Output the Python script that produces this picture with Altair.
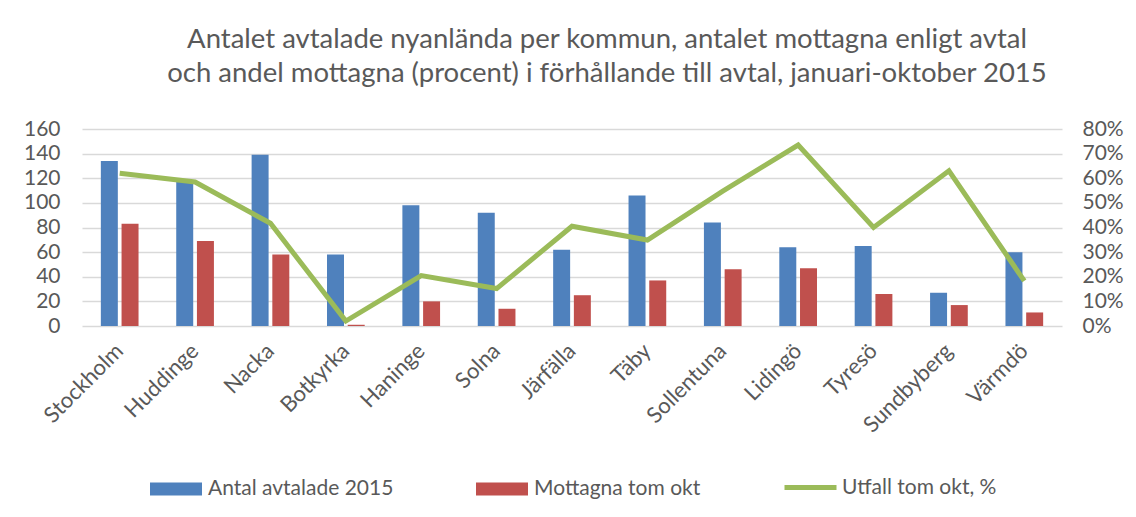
import altair as alt
import pandas as pd

kommuner = ["Stockholm", "Huddinge", "Nacka", "Botkyrka", "Haninge", "Solna",
            "Järfälla", "Täby", "Sollentuna", "Lidingö", "Tyresö", "Sundbyberg", "Värmdö"]
avtalade = [134, 118, 139, 58, 98, 92, 62, 106, 84, 64, 65, 27, 60]
mottagna = [83, 69, 58, 1, 20, 14, 25, 37, 46, 47, 26, 17, 11]
utfall = [0.62, 0.585, 0.417, 0.02, 0.205, 0.152, 0.405, 0.349, 0.548, 0.735, 0.40, 0.63, 0.183]

s1, s2, s3 = "Antal avtalade 2015", "Mottagna tom okt", "Utfall tom okt, %"
bar_colors = ["#4F81BD", "#C0504D"]
line_color = "#9BBB59"

bars_df = pd.DataFrame({
    "kommun": kommuner * 2,
    "serie": [s1] * len(kommuner) + [s2] * len(kommuner),
    "value": avtalade + mottagna,
})
line_df = pd.DataFrame({"kommun": kommuner, "pct": utfall, "serie": [s3] * len(kommuner)})

FONT = "Lato"
TXT = "#595959"

xscale = alt.Scale(paddingInner=0.5, paddingOuter=0.25)
xaxis = alt.Axis(title=None, labelAngle=-45, labelFontSize=22, labelColor=TXT,
                 labelFont=FONT, domain=False, ticks=False, grid=False, labelPadding=21,
                 labelBaseline="middle")

common_legend = dict(title=None, orient="none", direction="horizontal",
                     labelFontSize=21, labelFont=FONT, labelColor=TXT, labelLimit=400,
                     symbolSize=2704, padding=0, symbolOpacity=1)

bar_legend = alt.Legend(legendX=68, legendY=334, columns=2, columnPadding=82,
                        labelOffset=6,
                        symbolType="M-1,-0.25L1,-0.25L1,0.25L-1,0.25Z",
                        symbolStrokeWidth=0, **common_legend)
line_legend = alt.Legend(legendX=700, legendY=330, symbolType="stroke", labelOffset=3,
                         symbolStrokeWidth=5, **common_legend)

bars = alt.Chart(bars_df).mark_bar().encode(
    x=alt.X("kommun:N", sort=kommuner, scale=xscale, axis=xaxis),
    xOffset=alt.XOffset("serie:N", sort=[s1, s2], scale=alt.Scale(paddingInner=0.18)),
    y=alt.Y("value:Q", scale=alt.Scale(domain=[0, 160]),
            axis=alt.Axis(title=None, values=list(range(0, 161, 20)), labelFontSize=21,
                          labelFont=FONT, labelColor=TXT, domain=False, ticks=False,
                          labelPadding=22, gridColor="#D9D9D9", gridWidth=1.5)),
    color=alt.Color("serie:N", scale=alt.Scale(domain=[s1, s2], range=bar_colors),
                    legend=bar_legend),
)

line = alt.Chart(line_df).mark_line(strokeWidth=5).encode(
    x=alt.X("kommun:N", sort=kommuner, scale=xscale, axis=xaxis),
    y=alt.Y("pct:Q", scale=alt.Scale(domain=[0, 0.8]),
            axis=alt.Axis(title=None, orient="right", format=".0%",
                          values=[i / 10 for i in range(9)], labelFontSize=21,
                          labelFont=FONT, labelColor=TXT, domain=False, ticks=False,
                          grid=False, labelPadding=20)),
    stroke=alt.Stroke("serie:N", scale=alt.Scale(domain=[s3], range=[line_color]),
                      legend=line_legend),
)

chart = alt.layer(bars, line).resolve_scale(y="independent").properties(
    width=980, height=197,
    autosize=alt.AutoSizeParams(type="none"),
    padding={"left": 74, "top": 121, "right": 66, "bottom": 183},
    title=alt.TitleParams(
        text=["Antalet avtalade nyanlända per kommun, antalet mottagna enligt avtal",
              "och andel mottagna (procent) i förhållande till avtal, januari-oktober 2015"],
        anchor="middle", fontSize=27.5, font=FONT, color=TXT, fontWeight="normal",
        lineHeight=34, offset=31, dx=35),
).configure_view(stroke=None)

chart.save("out.html", embed_options={"renderer": "svg", "actions": False})
